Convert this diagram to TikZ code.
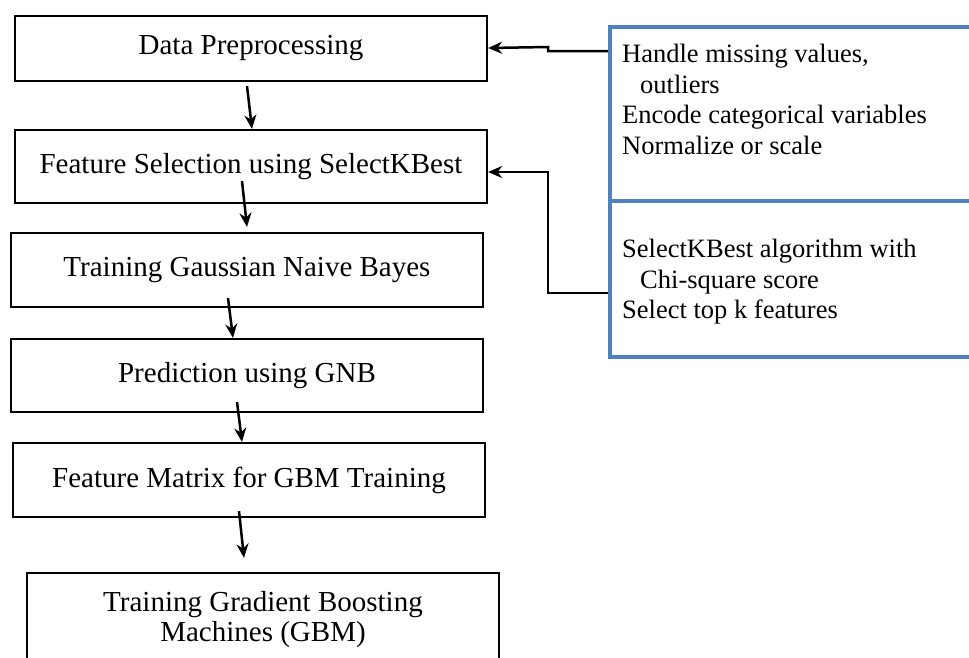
\documentclass[tikz,border=0pt]{standalone}
\usepackage{fontspec}
\setmainfont{Liberation Serif}
\usetikzlibrary{arrows.meta}
\definecolor{panelblue}{HTML}{4F81BD}
\tikzset{
  stage/.style={draw, line width=2.2pt, minimum width=472pt, inner sep=0pt, align=center, font=\fontsize{29}{30}\selectfont},
  panel/.style={draw=panelblue, line width=4pt, minimum width=400pt, inner sep=0pt},
  note/.style={anchor=north west, align=left, inner sep=0pt, font=\fontsize{26.5}{30.7}\selectfont},
  flow/.style={line width=2.5pt, -{Stealth[length=14pt, width=12pt]}}
}

\begin{document}
\begin{tikzpicture}[x=1pt, y=-1pt]
        \useasboundingbox (0,0) rectangle (969,657);
        \clip (0,0) rectangle (969,657);

        \node[stage, minimum height=65pt] (dp) at (251,48.5) {Data Preprocessing};
        \node[stage, minimum height=73pt] (fs) at (251,166.5) {Feature Selection using SelectKBest};
        \node[stage, minimum height=74pt] (tg) at (247,270) {Training Gaussian Naive Bayes};
        \node[stage, minimum height=73pt] (pg) at (247,375.5) {Prediction using GNB};
        \node[stage, minimum height=74pt] (fm) at (249,480) {Feature Matrix for GBM Training};
        \node[stage, minimum height=94pt] (gbm) at (263,620) {Training Gradient Boosting\\Machines (GBM)};

        \node[panel, minimum height=174pt] (prepbox) at (810,114) {};
        \node[panel, minimum height=156pt] (selbox) at (810,279) {};

        \node[note] (prepnote) at (622,44) {Handle missing values,\\\hspace*{18pt}outliers\\Encode categorical variables\\Normalize or scale};
        \node[note] (selnote) at (622,239) {SelectKBest algorithm with\\\hspace*{18pt}Chi-square score\\Select top k features};

        \draw[flow] ([xshift=-4pt,yshift=-4pt]dp.south) -- ([xshift=1pt]fs.north);
        \draw[flow] ([xshift=-9pt,yshift=23pt]fs.south) -- ([yshift=5pt]tg.north);
        \draw[flow] ([xshift=-19pt,yshift=10pt]tg.south) -- ([xshift=-14pt]pg.north);
        \draw[flow] ([xshift=-10pt,yshift=11pt]pg.south) -- ([xshift=-7pt]fm.north);
        \draw[flow] ([xshift=-10pt,yshift=7pt]fm.south) -- ([xshift=-19pt,yshift=14pt]gbm.north);

        \draw[flow] ([yshift=-26pt]prepbox.north west) -- ++(-60,0) -- ++(0,-4) -- ([yshift=0.5pt]dp.east);
        \draw[flow] ([yshift=-14pt]selbox.west) -- ++(-60,0) |- ([yshift=-5.5pt]fs.east);
\end{tikzpicture}
\end{document}
